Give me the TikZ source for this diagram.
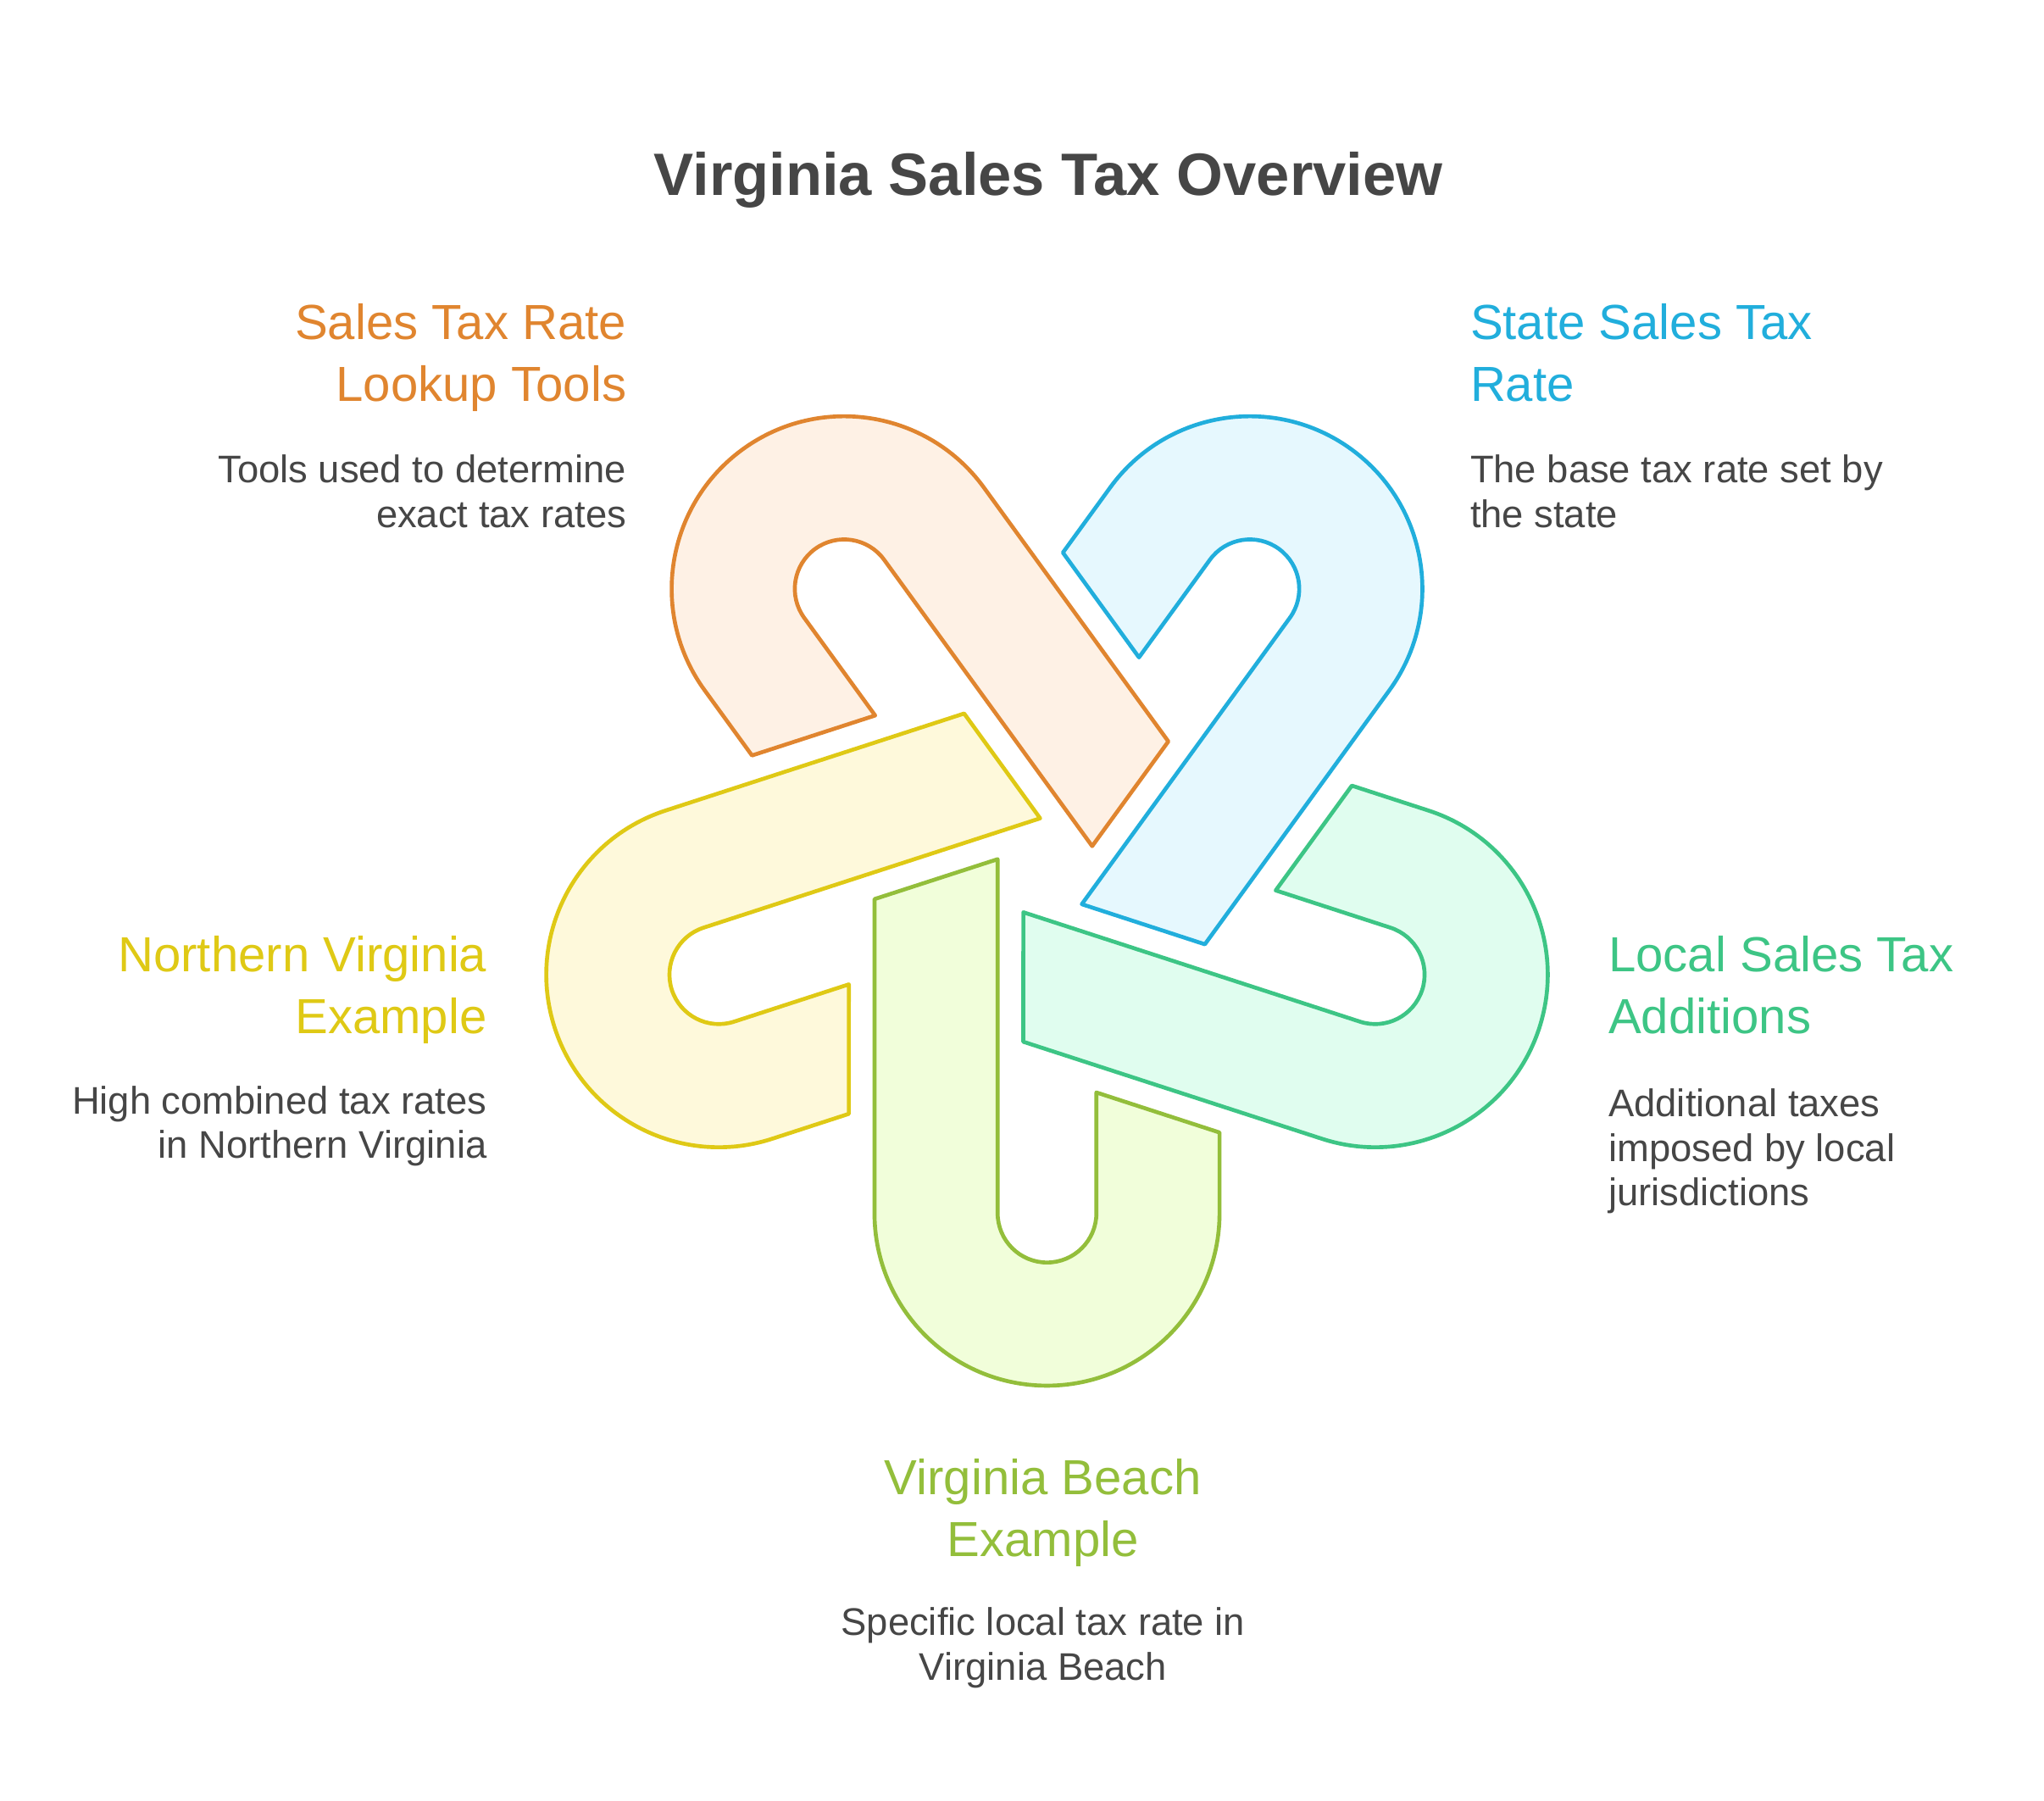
\documentclass[tikz,border=0pt]{standalone}
\usepackage{fontspec}
\setmainfont{Liberation Sans}
\usepackage{tikz}
\usetikzlibrary{calc}
\definecolor{beachC}{HTML}{93BE3B}\definecolor{beachF}{HTML}{F1FEDA}
\definecolor{localC}{HTML}{3DC585}\definecolor{localF}{HTML}{E0FDEF}
\definecolor{stateC}{HTML}{21AEDC}\definecolor{stateF}{HTML}{E6F8FE}
\definecolor{lookupC}{HTML}{E0852F}\definecolor{lookupF}{HTML}{FEF1E5}
\definecolor{northC}{HTML}{DFC915}\definecolor{northF}{HTML}{FEF9DB}
\definecolor{bodytext}{HTML}{464646}
\tikzset{piece/.style={draw=#1C, fill=#1F, line width=1.5pt, line join=round}}
\tikzset{head/.style={text=#1C, font=\fontsize{18.7}{23.5}\selectfont, inner sep=0pt}}
\tikzset{body/.style={text=bodytext, font=\fontsize{14.6}{17}\selectfont, inner sep=0pt}}
% one hairpin, bend below the centre, long leg on the left
\newcommand{\hairpin}{(-131,-23.6) -- (-131,-262) arc[start angle=180, end angle=360, radius=131]
  -- (131,-200.8) -- (37.5,-170.4) -- (37.5,-262) arc[start angle=0, end angle=-180, radius=37.5]
  -- (-37.5,6.7) -- cycle}

\begin{document}
\begin{tikzpicture}[x=0.5pt,y=0.5pt]
\useasboundingbox (-795,-708) rectangle (757,659);
\foreach \ang/\name in {0/beach,72/local,144/state,216/lookup,288/north} {
	\draw[piece=\name, rotate=\ang] \hairpin;
}
\node[font=\fontsize{22.7}{27}\selectfont\bfseries, text=bodytext, anchor=base] (title) at (1,511) {Virginia Sales Tax Overview};

\node[head=lookup, anchor=north east, align=right] (lookupHead) at (-319,429) {Sales Tax Rate\\Lookup Tools};
\node[body, anchor=north east, align=right] (lookupBody) at (-319,314) {Tools used to determine\\exact tax rates};

\node[head=state, anchor=north west, align=left] (stateHead) at (321,429) {State Sales Tax\\Rate};
\node[body, anchor=north west, align=left] (stateBody) at (321,314) {The base tax rate set by\\the state};

\node[head=local, anchor=north west, align=left] (localHead) at (426,-51) {Local Sales Tax\\Additions};
\node[body, anchor=north west, align=left] (localBody) at (426,-167) {Additional taxes\\imposed by local\\jurisdictions};

\node[head=north, anchor=north east, align=right] (northHead) at (-425,-51) {Northern Virginia\\Example};
\node[body, anchor=north east, align=right] (northBody) at (-425,-165) {High combined tax rates\\in Northern Virginia};

\node[head=beach, anchor=north, align=center] (beachHead) at (-3,-448) {Virginia Beach\\Example};
\node[body, anchor=north, align=center] (beachBody) at (-3,-561) {Specific local tax rate in\\Virginia Beach};
\end{tikzpicture}
\end{document}
